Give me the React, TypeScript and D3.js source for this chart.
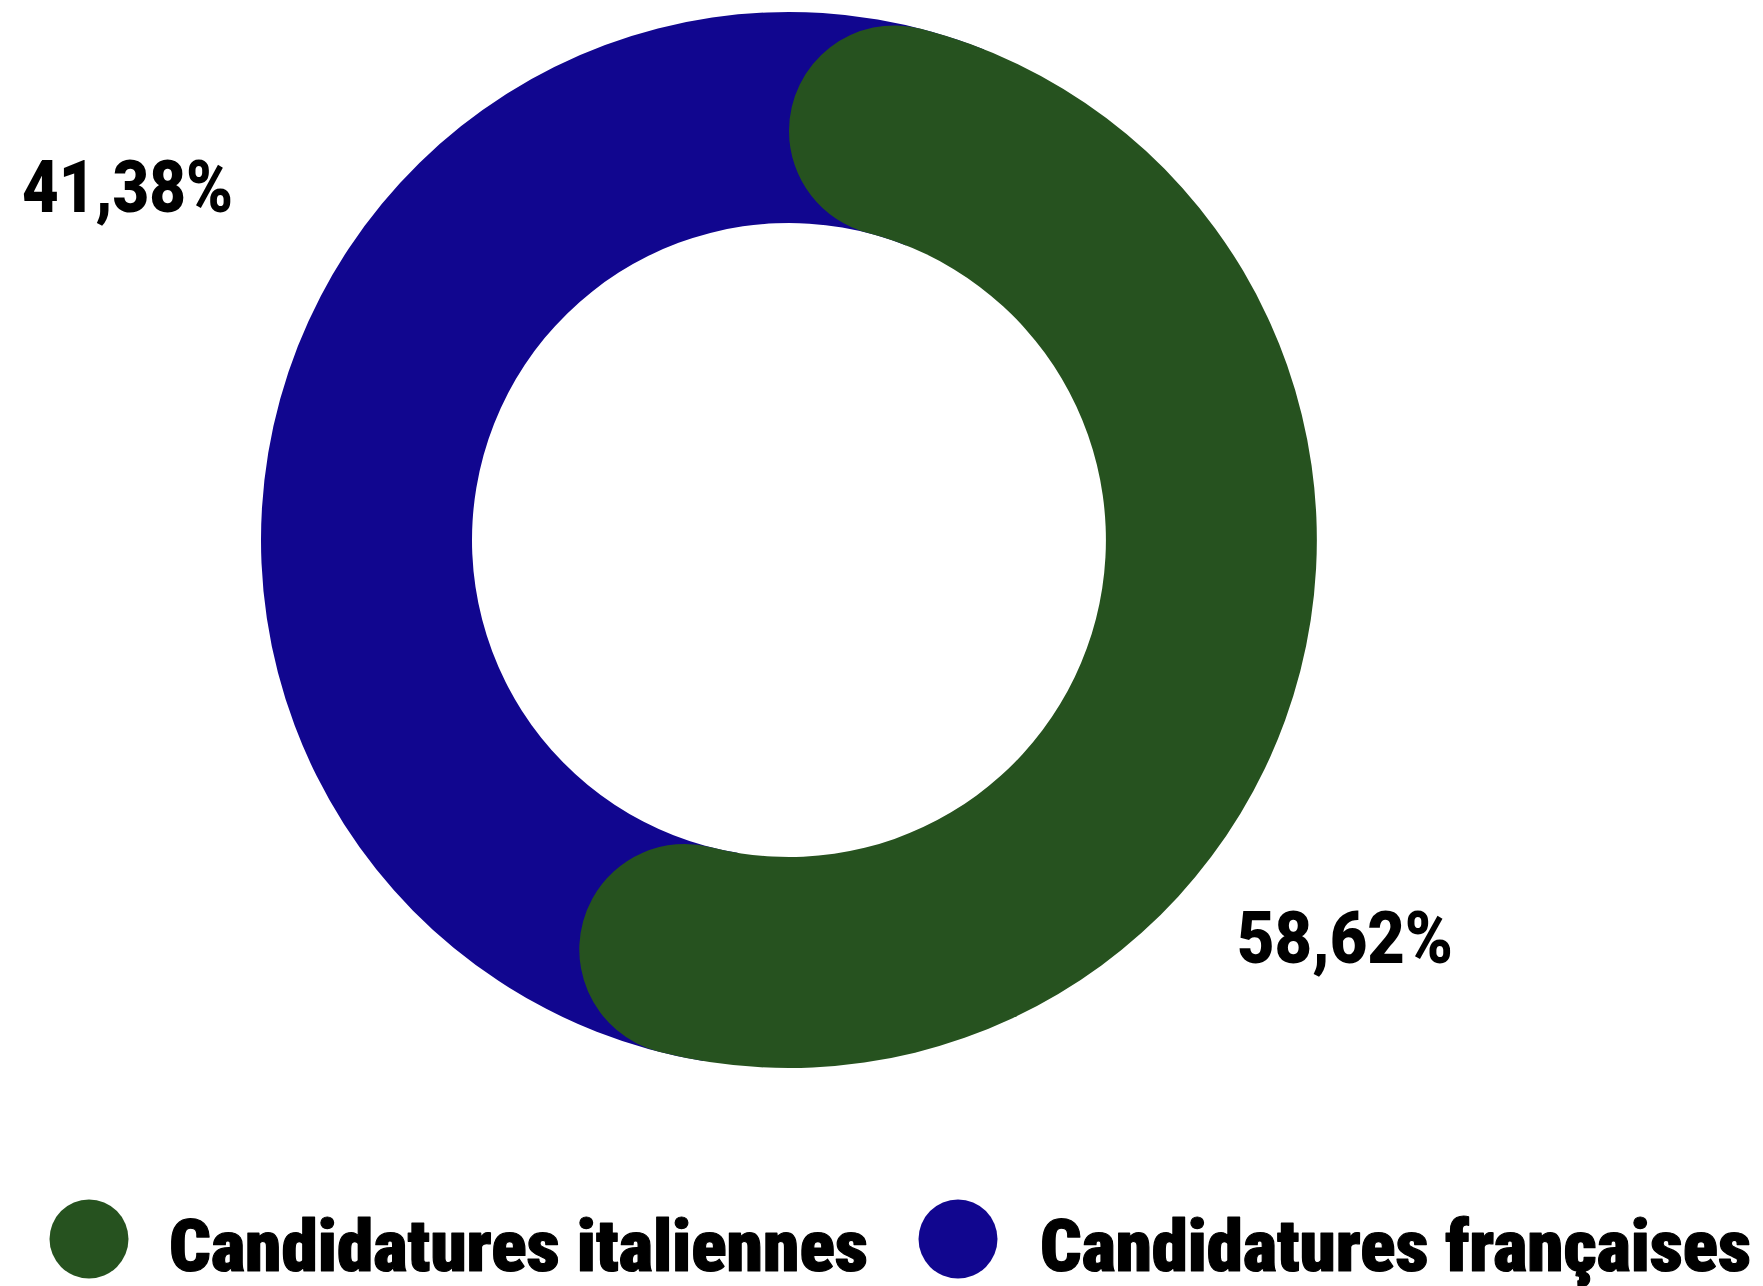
import React, { useEffect } from "react";
import * as d3 from "d3";

const categories = ["Candidatures italiennes", "Candidatures françaises"];
const values = [58.62, 41.38];
const valueLabels = ["58,62%", "41,38%"];
const colors = ["#26521f", "#11068f"];

const W = 1763;
const H = 1286;
const cx = 789;
const cy = 540;
const outerR = 528;
const innerR = 317;
const endGap = 0.04; // small visual gap at the end of the rounded arc

export default function App() {
  useEffect(() => {
    document.body.style.margin = "0";
    document.body.style.overflow = "hidden";
  }, []);

  const pie = d3.pie<number>().sort(null).startAngle(0).endAngle(2 * Math.PI);
  const arcs = pie(values);
  const thickness = outerR - innerR;
  const capR = thickness / 2;
  const midR = (outerR + innerR) / 2;
  const capAngle = Math.asin(capR / midR);

  const arcRound = d3.arc<any>().innerRadius(innerR).outerRadius(outerR).cornerRadius(capR);
  const arcFlat = d3.arc<any>().innerRadius(innerR).outerRadius(outerR);

  const green = arcs[0];
  const blue = arcs[1];
  const bluePath = arcFlat({
    startAngle: blue.startAngle - capAngle * 1.5,
    endAngle: blue.endAngle + capAngle * 1.5,
  }) as string;
  const greenPath = arcRound({
    startAngle: green.startAngle,
    endAngle: green.endAngle - endGap,
  }) as string;

  const labelFont = "Roboto, sans-serif";
  const legendFont = "'Roboto Condensed', Roboto, sans-serif";

  const labelPos = [
    { x: 1237, y: 963, w: 216 },
    { x: 22, y: 212, w: 211 },
  ];
  const legendPos = [
    { cx: 89, tx: 169, w: 699 },
    { cx: 958, tx: 1040, w: 711 },
  ];
  const legendY = 1239;

  return (
    <svg width={W} height={H} style={{ display: "block", background: "#fff" }}>
      <g transform={`translate(${cx},${cy})`}>
        <path d={bluePath} fill={colors[1]} />
        <path d={greenPath} fill={colors[0]} />
      </g>
      {valueLabels.map((t, i) => (
        <text
          key={t}
          x={labelPos[i].x}
          y={labelPos[i].y}
          fontFamily={labelFont}
          fontWeight={900}
          fontSize={73}
          textLength={labelPos[i].w}
          lengthAdjust="spacingAndGlyphs"
          fill="#000"
        >
          {t}
        </text>
      ))}
      {categories.map((c, i) => (
        <g key={c}>
          <circle cx={legendPos[i].cx} cy={legendY} r={39.5} fill={colors[i]} />
          <text
            x={legendPos[i].tx}
            y={1271}
            fontFamily={legendFont}
            fontWeight={900}
            fontSize={73}
            textLength={legendPos[i].w}
            lengthAdjust="spacingAndGlyphs"
            fill="#000"
            stroke="#000"
            strokeWidth={1.2}
            strokeLinejoin="round"
          >
            {c}
          </text>
        </g>
      ))}
    </svg>
  );
}
